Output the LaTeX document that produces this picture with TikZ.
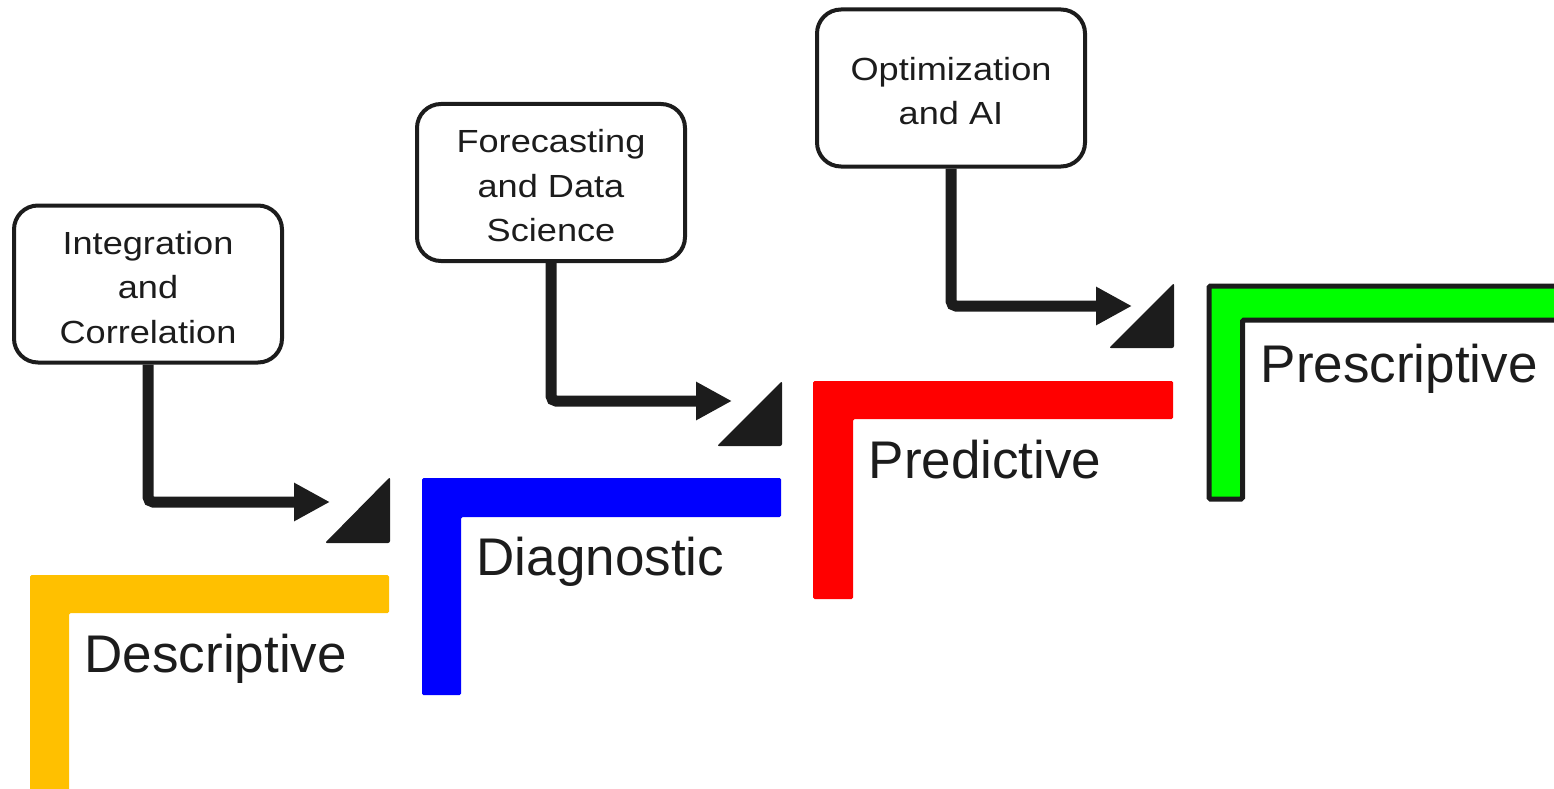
\documentclass[tikz,border=0pt]{standalone}
\usepackage{fontspec}
\setmainfont{Liberation Sans}
\newfontfamily\boxfont[FakeStretch=1.13]{Liberation Sans}
\usetikzlibrary{arrows.meta}
\definecolor{ink}{HTML}{1C1C1C}
\definecolor{stageyellow}{HTML}{FFC000}
\definecolor{stageblue}{HTML}{0000FF}
\definecolor{stagered}{HTML}{FF0000}
\definecolor{stagegreen}{HTML}{00FF00}
% taller first line, so the text block sits a little lower in its box
\newcommand{\toprow}{\rule{0pt}{29.5pt}}

\begin{document}
\begin{tikzpicture}[x=1pt,y=-1pt,
  stepbox/.style={draw=ink, line width=4pt, rounded corners=24pt,
    minimum width=268pt, minimum height=157pt, inner sep=0pt,
    align=center, font=\boxfont\fontsize{32}{44.5}\selectfont, text=ink},
  flow/.style={draw=ink, line width=11pt,
    -{Triangle[length=36pt,width=36pt]}},
  stage/.style={anchor=base west, inner sep=0pt,
    font=\fontsize{53}{60}\selectfont, text=ink},
  wedge/.style={fill=ink, rounded corners=2pt},
  bar/.style={rounded corners=1.5pt}]

\useasboundingbox (0,0) rectangle (1554,789);

% stair steps
\fill[stageyellow, bar] (30,575) -- (389,575) -- (389,613) -- (69,613) -- (69,800) -- (30,800) -- cycle;
\fill[stageblue, bar] (422,478) -- (781,478) -- (781,517) -- (461,517) -- (461,695) -- (422,695) -- cycle;
\fill[stagered, bar] (813,381) -- (1173,381) -- (1173,419) -- (853,419) -- (853,599) -- (813,599) -- cycle;
\filldraw[fill=stagegreen, draw=ink, line width=5pt, bar]
  (1209,286) -- (1575,286) -- (1575,320) -- (1242.5,320) -- (1242.5,499) -- (1209,499) -- cycle;

% stage labels
\node[stage] (desc)  at (84.5,672)   {Descriptive};
\node[stage] (diag)  at (476.5,575)  {Diagnostic};
\node[stage] (pred)  at (868.5,478)  {Predictive};
\node[stage] (presc) at (1260.5,382) {Prescriptive};

% corner wedges
\fill[wedge] (325,543) -- (390,543) -- (390,477) -- cycle;
\fill[wedge] (717,446) -- (782,446) -- (782,381) -- cycle;
\fill[wedge] (1109,348) -- (1174,348) -- (1174,283) -- cycle;

% capability boxes
\node[stepbox] (b1) at (148,284)   {\toprow Integration\\and\\Correlation};
\node[stepbox] (b2) at (551,182.5) {\toprow Forecasting\\and Data\\Science};
\node[stepbox] (b3) at (951,88)    {\toprow Optimization\\and AI};

% arrow ends
\coordinate (a1) at (330,502);
\coordinate (a2) at (732,401);
\coordinate (a3) at (1132,306);

% connectors
\draw[flow] (b1.south) [rounded corners=5pt] |- (a1);
\draw[flow] (b2.south) [rounded corners=5pt] |- (a2);
\draw[flow] (b3.south) [rounded corners=5pt] |- (a3);
\end{tikzpicture}
\end{document}
